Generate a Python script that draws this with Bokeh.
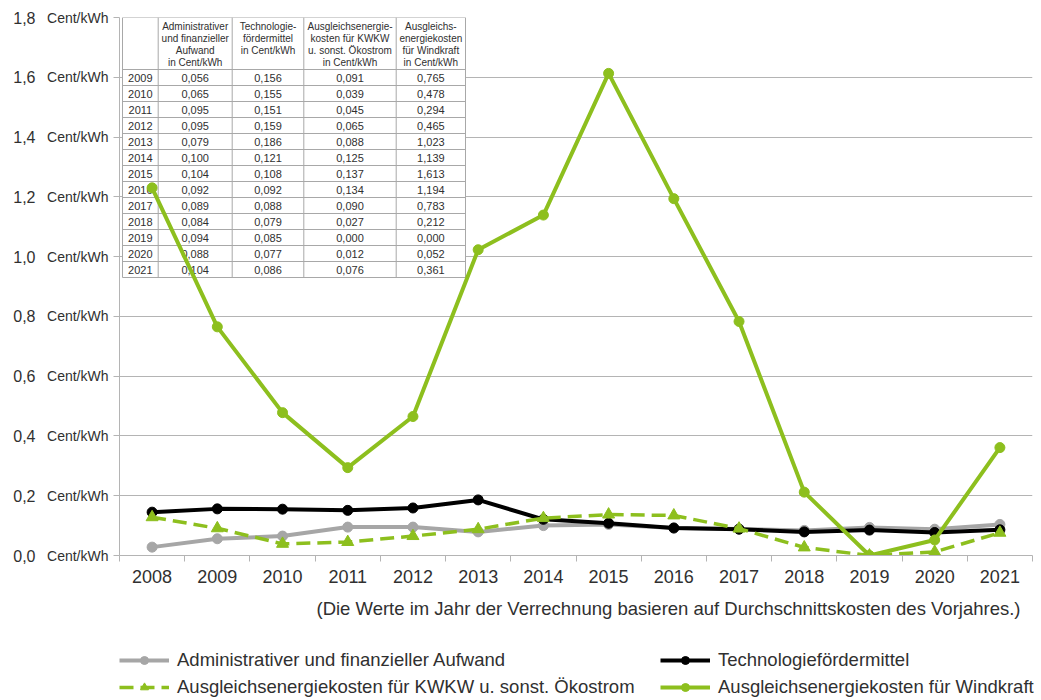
import numpy as np
from bokeh.plotting import figure
from bokeh.layouts import column
from bokeh.models import FixedTicker, LinearAxis, Range1d, Legend, LegendItem
from bokeh.embed import file_html
from bokeh.resources import INLINE
from bokeh.core.properties import value

# ---------------- data ----------------
years = [2008, 2009, 2010, 2011, 2012, 2013, 2014, 2015, 2016, 2017, 2018, 2019, 2020, 2021]
year_labels = [str(y) for y in years]

admin = [0.028, 0.056, 0.065, 0.095, 0.095, 0.079, 0.100, 0.104, 0.092, 0.089, 0.084, 0.094, 0.088, 0.104]
tech = [0.145, 0.156, 0.155, 0.151, 0.159, 0.186, 0.121, 0.108, 0.092, 0.088, 0.079, 0.085, 0.077, 0.086]
kwkw = [0.128, 0.091, 0.039, 0.045, 0.065, 0.088, 0.125, 0.137, 0.134, 0.090, 0.027, 0.000, 0.012, 0.076]
wind = [1.230, 0.765, 0.478, 0.294, 0.465, 1.023, 1.139, 1.613, 1.194, 0.783, 0.212, 0.000, 0.052, 0.361]

table_years = years[1:]

y_ticks = [0.0, 0.2, 0.4, 0.6, 0.8, 1.0, 1.2, 1.4, 1.6, 1.8]
y_tick_numbers = ["0,0", "0,2", "0,4", "0,6", "0,8", "1,0", "1,2", "1,4", "1,6", "1,8"]
unit_label = "Cent/kWh"

table_headers = [
    "",
    "Administrativer\nund finanzieller\nAufwand\nin Cent/kWh",
    "Technologie-\nfördermittel\nin Cent/kWh",
    "Ausgleichsenergie-\nkosten für KWKW\nu. sonst. Ökostrom\nin Cent/kWh",
    "Ausgleichs-\nenergiekosten\nfür Windkraft\nin Cent/kWh",
]

series_names = [
    "Administrativer und finanzieller Aufwand",
    "Technologiefördermittel",
    "Ausgleichsenergiekosten für KWKW u. sonst. Ökostrom",
    "Ausgleichsenergiekosten für Windkraft",
]

note = "(Die Werte im Jahr der Verrechnung basieren auf Durchschnittskosten des Vorjahres.)"

# ---------------- style ----------------
FONT = "Liberation Sans"
TXT = "#303030"
GREEN = "#8dbf1e"
GREY = "#a6a6a6"
BLACK = "#000000"
GRIDC = "#b4b4b4"
TABC = "#a8a8a8"

FW, FH = 913, 538
X0, X1 = years[0] - 0.5, years[-1] + 0.5
Y0, Y1 = y_ticks[0], y_ticks[-1]
px_x = FW / (X1 - X0)
px_y = FH / (Y1 - Y0)

fig = figure(frame_width=FW, frame_height=FH,
             x_range=Range1d(X0, X1), y_range=Range1d(Y0, Y1),
             output_backend="svg", toolbar_location=None,
             min_border_left=119, min_border_right=1, min_border_top=17, min_border_bottom=40)
fig.outline_line_color = None
fig.background_fill_color = "white"
fig.border_fill_color = "white"

fig.xgrid.visible = False
fig.ygrid.ticker = FixedTicker(ticks=y_ticks)
fig.ygrid.grid_line_color = GRIDC
fig.ygrid.grid_line_width = 1

# x axis: labels at category centres, tick marks at category boundaries
xa = fig.xaxis[0]
xa.ticker = FixedTicker(ticks=years, minor_ticks=[y - 0.5 for y in years] + [years[-1] + 0.5])
xa.major_label_overrides = dict(zip(years, year_labels))
xa.axis_line_color = GRIDC
xa.major_tick_line_color = None
xa.minor_tick_line_color = GRIDC
xa.minor_tick_in = 0
xa.minor_tick_out = 6
xa.major_label_standoff = 8
xa.major_label_text_font = FONT
xa.major_label_text_font_size = "18px"
xa.major_label_text_color = TXT

# y axis: inner axis with unit text, outer axis with numbers
ya = fig.yaxis[0]
ya.ticker = FixedTicker(ticks=y_ticks)
ya.major_label_overrides = {t: unit_label for t in y_ticks}
ya.axis_line_color = GRIDC
ya.major_tick_line_color = GRIDC
ya.major_tick_in = 0
ya.major_tick_out = 6
ya.minor_tick_line_color = None
ya.major_label_standoff = 5
ya.major_label_text_font = FONT
ya.major_label_text_font_size = "14px"
ya.major_label_text_color = TXT

ya2 = LinearAxis(ticker=FixedTicker(ticks=y_ticks),
                 major_label_overrides=dict(zip(y_ticks, y_tick_numbers)),
                 axis_line_color=None, major_tick_line_color=None, minor_tick_line_color=None,
                 major_tick_in=0, major_tick_out=0,
                 major_label_standoff=9, major_label_text_font=FONT,
                 major_label_text_font_size="16px", major_label_text_color=TXT)
fig.add_layout(ya2, "left")

# ---------------- data table inset ----------------
col_px = [3, 38.7, 112.7, 184.3, 276.7, 346]
head_px = 52
row_px = 16


def tx(px):
    return X0 + px / px_x


def ty(px):
    return Y1 - px / px_y


n_rows = len(table_years)
row_edges = [0, head_px] + [head_px + row_px * (i + 1) for i in range(n_rows)]
bottom_px = row_edges[-1]

fig.quad(left=tx(col_px[0]), right=tx(col_px[-1]), top=Y1, bottom=ty(bottom_px),
         fill_color="white", line_color=None)
fig.segment(x0=[tx(col_px[0])] * len(row_edges), x1=[tx(col_px[-1])] * len(row_edges),
            y0=[ty(r) for r in row_edges], y1=[ty(r) for r in row_edges],
            line_color=TABC, line_width=1)
fig.segment(x0=[tx(c) for c in col_px], x1=[tx(c) for c in col_px],
            y0=[Y1] * len(col_px), y1=[ty(bottom_px)] * len(col_px),
            line_color=TABC, line_width=1)

col_centres = [tx((col_px[i] + col_px[i + 1]) / 2) for i in range(len(col_px) - 1)]
fig.text(x=col_centres, y=[ty(3.5)] * len(col_centres), text=table_headers,
         text_align="center", text_baseline="top", text_font=value(FONT),
         text_font_size="10px", text_line_height=1.08, text_color=TXT)


def fmt(v):
    return f"{v:.3f}".replace(".", ",")


cols = [[str(y) for y in table_years],
        [fmt(v) for v in admin[1:]],
        [fmt(v) for v in tech[1:]],
        [fmt(v) for v in kwkw[1:]],
        [fmt(v) for v in wind[1:]]]
tx_list, ty_list, tt_list = [], [], []
for ci, col in enumerate(cols):
    for ri, t in enumerate(col):
        tx_list.append(col_centres[ci])
        ty_list.append(ty(head_px + row_px * ri + row_px / 2))
        tt_list.append(t)
fig.text(x=tx_list, y=ty_list, text=tt_list, text_align="center", text_baseline="middle",
         text_font=value(FONT), text_font_size="11px", text_color=TXT)

# ---------------- series ----------------
styles = [
    dict(color=GREY, dash="solid", width=4, marker="circle", size=10),
    dict(color=BLACK, dash="solid", width=4, marker="circle", size=10),
    dict(color=GREEN, dash="14 7", width=3.5, marker="triangle", size=12),
    dict(color=GREEN, dash="solid", width=4, marker="circle", size=10),
]
for vals, st in zip([admin, tech, kwkw, wind], styles):
    fig.line(years, vals, line_color=st["color"], line_width=st["width"], line_dash=st["dash"])
    fig.scatter(years, vals, marker=st["marker"], size=st["size"],
                fill_color=st["color"], line_color=st["color"])

# ---------------- note + legend panel ----------------
LW, LH = FW + 8, 105
leg = figure(frame_width=LW, frame_height=LH, x_range=Range1d(0, LW), y_range=Range1d(0, LH),
             output_backend="svg", toolbar_location=None,
             x_axis_location=None, y_axis_location=None,
             min_border_left=119, min_border_right=0, min_border_top=0, min_border_bottom=0)
leg.outline_line_color = None
leg.grid.visible = False
leg.background_fill_color = "white"
leg.border_fill_color = "white"

leg.text(x=[FW - 12], y=[LH - 13], text=[note], text_align="right", text_baseline="middle",
         text_font=value(FONT), text_font_size="18.5px", text_color=TXT)

nan = np.array([np.nan])
items = []
for name, st in zip(series_names, styles):
    lr = leg.line(nan, nan, line_color=st["color"], line_width=st["width"], line_dash=st["dash"])
    mr = leg.scatter(nan, nan, marker=st["marker"], size=st["size"],
                     fill_color=st["color"], line_color=st["color"])
    items.append(LegendItem(label=name, renderers=[lr, mr]))

legend = Legend(items=items, location=(0, 2), orientation="horizontal", ncols=2,
                glyph_width=50, glyph_height=20, label_height=20, label_standoff=8,
                spacing=5, padding=0, margin=0, label_width=478,
                label_text_font=FONT, label_text_font_size="18.5px", label_text_color=TXT,
                border_line_color=None, background_fill_alpha=0)
leg.add_layout(legend)

p = column(fig, leg, spacing=0)

open("out.html", "w").write(file_html(p, INLINE))
